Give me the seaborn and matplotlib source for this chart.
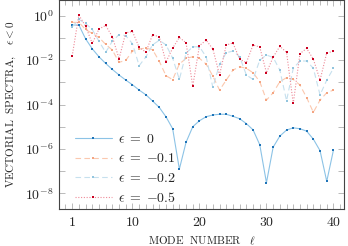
import numpy as np
import pandas as pd
import matplotlib
matplotlib.use("Agg")
import matplotlib.pyplot as plt
import matplotlib.ticker as mticker
import seaborn as sns

# mode numbers and spectra (log10 values)
modes = list(range(1, 41))
log_eps_0 = [-0.42, -0.42, -1.04, -1.49, -1.85, -2.15, -2.42, -2.67, -2.90, -3.11,
             -3.35, -3.56, -3.84, -4.13, -4.55, -5.09, -6.91, -5.70, -5.00, -4.73,
             -4.55, -4.47, -4.44, -4.44, -4.53, -4.64, -4.86, -5.14, -5.81, -7.52,
             -5.92, -5.42, -5.15, -5.05, -5.09, -5.20, -5.56, -6.08, -7.46, -6.05]
log_eps_01 = [-0.30, -0.30, -0.62, -0.80, -0.98, -1.29, -1.55, -2.10, -2.01, -1.60,
              -1.50, -1.46, -1.53, -2.05, -2.70, -2.88, -2.18, -1.92, -1.85, -1.92,
              -2.18, -2.72, -3.35, -2.90, -2.45, -2.30, -2.37, -2.57, -2.97, -3.80,
              -3.47, -2.97, -2.79, -2.87, -3.12, -3.69, -4.35, -3.80, -3.47, -3.35]
log_eps_02 = [-0.50, -0.17, -0.35, -0.62, -1.15, -1.65, -1.15, -0.85, -0.90, -1.26,
              -2.25, -1.86, -1.31, -1.11, -1.31, -1.91, -2.87, -1.69, -1.40, -1.40,
              -1.85, -3.23, -2.19, -1.67, -1.59, -1.85, -2.67, -2.87, -2.00, -1.77,
              -1.88, -2.45, -3.83, -2.37, -2.04, -2.04, -2.37, -3.57, -2.90, -2.37]
log_eps_05 = [-1.82, 0.03, -0.47, -1.25, -0.60, -0.44, -0.95, -1.94, -0.77, -0.71,
              -1.43, -1.64, -0.86, -0.95, -2.09, -1.46, -0.98, -1.22, -3.17, -1.35,
              -1.10, -1.50, -2.67, -1.32, -1.23, -1.96, -2.11, -1.32, -1.41, -2.57,
              -1.86, -1.38, -1.65, -3.95, -1.71, -1.47, -1.96, -2.90, -1.67, -1.61]

labels = [r"$\epsilon\;=\;{0}$", r"$\epsilon\;=\;{-0.1}$", r"$\epsilon\;=\;{-0.2}$", r"$\epsilon\;=\;{-0.5}$"]
series = [log_eps_0, log_eps_01, log_eps_02, log_eps_05]
line_colors = ["#8cc3e6", "#fbc8ae", "#c6e0ee", "#ee8a98"]
mark_colors = ["#1f74b8", "#f4a582", "#92c5de", "#ca0020"]
styles = ["-", (0, (5, 3)), (0, (5, 3)), (0, (1, 1.5))]

sns.set_style("ticks")
plt.rcParams["font.family"] = ["DejaVu Serif"]
plt.rcParams["mathtext.fontset"] = "cm"

fig = plt.figure(figsize=(3.48, 2.46), dpi=100)
ax = fig.add_axes([0.170, 0.150, 0.819, 0.848])

for vals, lab, lc, mc, ls in zip(series, labels, line_colors, mark_colors, styles):
    df = pd.DataFrame({"mode": modes, "spec": np.power(10.0, vals)})
    sns.lineplot(data=df, x="mode", y="spec", ax=ax, color=lc, linestyle=ls,
                 linewidth=0.8, marker="s", markersize=1.9, markerfacecolor=mc,
                 markeredgecolor=mc, markeredgewidth=0, label=lab)

ax.set_yscale("log")
ax.set_xlim(-0.94, 41.6)
ax.set_ylim(10 ** -8.71, 10 ** 0.685)

ax.xaxis.set_major_locator(mticker.FixedLocator([1, 10, 20, 30, 40]))
ax.xaxis.set_minor_locator(mticker.MultipleLocator(1))
ax.xaxis.set_major_formatter(mticker.FuncFormatter(lambda v, p: r"$%d$" % v))
ax.yaxis.set_major_locator(mticker.FixedLocator([10.0 ** k for k in range(-8, 1)]))
ax.yaxis.set_minor_locator(mticker.NullLocator())


def yfmt(v, p):
    k = int(round(np.log10(v)))
    return r"$10^{%d}$" % k if k % 2 == 0 else ""


ax.yaxis.set_major_formatter(mticker.FuncFormatter(yfmt))
ax.tick_params(which="both", direction="in", top=True, right=True, color="#b0b0b0",
               labelsize=10, width=0.6, pad=4)
ax.tick_params(which="major", length=4.5)
ax.tick_params(which="minor", length=3.5)
for s in ax.spines.values():
    s.set_color("#444444")
    s.set_linewidth(0.8)

ax.set_xlabel(r"$\mathrm{MODE\ \ NUMBER}\ \ \ \ell$", fontsize=8, labelpad=4)
ax.set_ylabel(r"$\mathrm{VECTORIAL\ \ SPECTRA,}\ \ \ \epsilon < 0$", fontsize=8, labelpad=5)

leg = ax.legend(loc="lower left", bbox_to_anchor=(0.02, -0.025), frameon=False,
                fontsize=10, handlelength=2.7, handletextpad=0.4, labelspacing=0.4,
                borderaxespad=0.3)

fig.savefig("out.png", dpi=100)
